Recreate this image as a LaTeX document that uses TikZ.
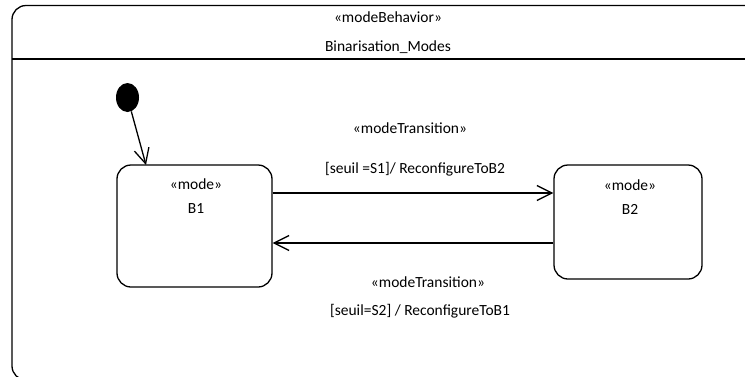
\documentclass[tikz,border=0pt]{standalone}
\usepackage{fontspec}
\setmainfont{Carlito}
\usetikzlibrary{arrows.meta,shapes.geometric}
\tikzset{
  lbl/.style={inner sep=0pt, font=\fontsize{15.5}{18}\selectfont, anchor=base},
  modebox/.style={draw, line width=1.3pt, rounded corners=14pt, inner sep=0pt},
  arr/.style={line width=1.3pt, -{Straight Barb[length=15pt, width=15pt, line width=1.3pt]}},
}
\begin{document}
\begin{tikzpicture}[x=1pt, y=-1pt]
\useasboundingbox (0,0) rectangle (745,376);
\clip (0,0) rectangle (745,376);
% outer frame
\draw[line width=1.3pt, rounded corners=14pt] (12,5.5) rectangle (762,380);
\draw[line width=1.3pt] (12,59) -- (762,59);
\node[lbl] (st) at (388,22) {«modeBehavior»};
\node[lbl] (nm) at (388,51) {Binarisation\_Modes};
% initial
\node[ellipse, fill=black, minimum width=23pt, minimum height=29pt, inner sep=0pt] (init) at (127.5,97.5) {};
% states
\node[modebox, minimum width=155pt, minimum height=122pt] (b1) at (194.5,226) {};
\node[lbl] (b1s) at (196,189) {«mode»};
\node[lbl] (b1n) at (196,213) {B1};
\node[modebox, minimum width=148pt, minimum height=114pt] (b2) at (628,222) {};
\node[lbl] (b2s) at (630,190) {«mode»};
\node[lbl] (b2n) at (630,214) {B2};
\coordinate (b1in) at (146,165);
\draw[arr] (init) -- (b1in);
% transitions
\draw[arr] (b1.east |- 0,193) -- (b2.west |- 0,193);
\draw[arr] (b2.west |- 0,243) -- (b1.east |- 0,243);
\node[lbl] (t1s) at (410,133) {«modeTransition»};
\node[lbl] (t1g) at (415,173) {[seuil =S1]/ ReconfigureToB2};
\node[lbl] (t2s) at (428,287) {«modeTransition»};
\node[lbl] (t2g) at (420,315) {[seuil=S2] / ReconfigureToB1};
\end{tikzpicture}
\end{document}
